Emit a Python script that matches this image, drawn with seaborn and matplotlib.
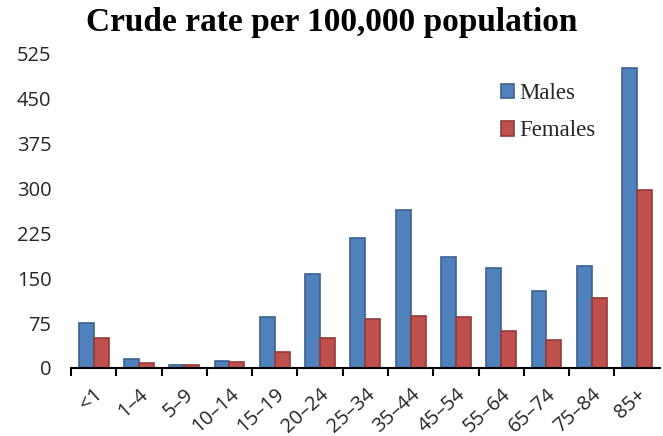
import numpy as np
import pandas as pd
import matplotlib
matplotlib.use("Agg")
import matplotlib.pyplot as plt
import seaborn as sns

ages = ["<1", "1–4", "5–9", "10–14", "15–19", "20–24", "25–34",
        "35–44", "45–54", "55–64", "65–74", "75–84", "85+"]
males = [75, 15, 5, 12, 85, 157, 216, 264, 185, 167, 128, 170, 500]
females = [50, 8, 5, 10, 27, 50, 82, 87, 85, 62, 47, 117, 297]

df = pd.DataFrame({
    "age": ages * 2,
    "rate": males + females,
    "sex": ["Males"] * len(ages) + ["Females"] * len(ages),
})

sns.set_style("white")
fig = plt.figure(figsize=(6.63, 4.36), dpi=100)
ax = fig.add_axes([0.107, 0.156, 0.888, 0.722])

colors = {"Males": "#4F81BD", "Females": "#C0504D"}
sns.barplot(data=df, x="age", y="rate", hue="sex", palette=colors,
            width=0.66, ax=ax, saturation=1)

# darker edges to hint at the bevelled look
for patch in ax.patches:
    fc = patch.get_facecolor()
    patch.set_edgecolor(tuple(c * 0.75 for c in fc[:3]))
    patch.set_linewidth(1.2)

ax.set_ylim(0, 525)
ax.set_xlim(-0.5, len(ages) - 0.5)
ax.set_yticks(np.arange(0, 526, 75))
ax.set_xlabel("")
ax.set_ylabel("")
for s in ["top", "right", "left"]:
    ax.spines[s].set_visible(False)
ax.spines["bottom"].set_color("black")
ax.spines["bottom"].set_linewidth(1.5)

ax.set_xticks(np.arange(-0.5, len(ages) - 0.5, 1), minor=True)
ax.tick_params(axis="x", which="minor", length=6, width=1.5, color="black",
               bottom=True)
ax.tick_params(axis="x", which="major", length=0, pad=12)
ax.tick_params(axis="y", length=0, pad=14)
ax.set_xticklabels(ages, rotation=42, ha="right", rotation_mode="anchor",
                   fontsize=14.5, fontfamily="Open Sans", color="#262626")
for lbl in ax.get_yticklabels():
    lbl.set_fontsize(14.5)
    lbl.set_fontfamily("Open Sans")
    lbl.set_color("#262626")

fig.suptitle("Crude rate per 100,000 population", x=0.5, y=0.985,
             fontsize=24, fontweight="bold", fontfamily="Liberation Serif",
             color="black")

ax.legend(loc="upper left", bbox_to_anchor=(0.695, 0.97), frameon=False,
          prop={"family": "Liberation Serif", "size": 16.5},
          handlelength=0.6, handleheight=0.6, handletextpad=0.2,
          labelspacing=0.7)

fig.savefig("out.png", dpi=100)
